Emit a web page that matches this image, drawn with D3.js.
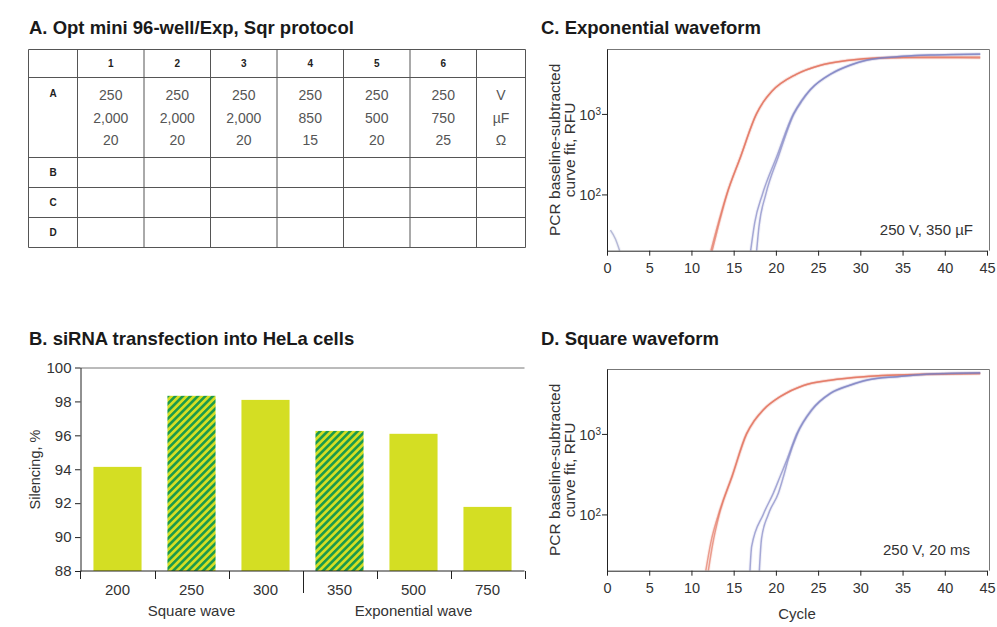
<!DOCTYPE html>
<html>
<head>
<meta charset="utf-8">
<script src="https://cdn.jsdelivr.net/npm/d3@7"></script>
<style>
  body { margin: 0; background: #fff; }
  svg text { font-family: "Liberation Sans", Arial, sans-serif; fill: #333; }
</style>
</head>
<body>
<svg id="chart" width="997" height="627"></svg>
<script>
// ---- panel A: plate layout
const plateCols = ["1", "2", "3", "4", "5", "6"];
const plateRows = ["A", "B", "C", "D"];
const voltsA = ["250", "250", "250", "250", "250", "250"];
const capA = ["2,000", "2,000", "2,000", "850", "500", "750"];
const resA = ["20", "20", "20", "15", "20", "25"];
const unitsA = ["V", "µF", "Ω"];

// ---- panel B: silencing
const pulses = ["200", "250", "300", "350", "500", "750"];
const silencing = [94.14, 98.33, 98.09, 96.26, 96.09, 91.78];
const hatched = [false, true, false, true, false, false];
const waveGroups = ["Square wave", "Exponential wave"];
const silencingTicks = [88, 90, 92, 94, 96, 98, 100];

// ---- panels C/D: qPCR curves, [cycle, RFU]
const cycleTicks = [0, 5, 10, 15, 20, 25, 30, 35, 40, 45];
const rfuTicks = [100, 1000];

const expRed1 = [[12.3, 20], [13.2, 45], [14.17, 100], [15.8, 290], [17.7, 1000], [18.5, 1400], [19.5, 1900], [22.4, 3100], [25.2, 4000], [28.4, 4600], [32.3, 5000], [38, 5100], [44.2, 5100]];
const expRed2 = [[12.45, 20], [13.3, 45], [14.2, 100], [15.8, 290], [17.7, 1000], [18.5, 1400], [19.5, 1900], [22.4, 3100], [25.2, 4000], [28.4, 4600], [32.3, 4950], [38, 5000], [44.2, 4950]];
const expBlue1 = [[17.01, 20], [17.5, 45], [18.4, 100], [20.1, 296], [22.06, 1000], [23.0, 1450], [24.04, 1990], [26.6, 3190], [28.8, 4050], [30.75, 4670], [34.3, 5140], [38.25, 5380], [44.2, 5550]];
const expBlue2 = [[17.72, 20], [18.0, 40], [18.8, 100], [20.3, 296], [22.15, 1000], [23.1, 1450], [24.1, 1990], [26.7, 3190], [28.9, 4050], [30.9, 4670], [34.4, 5140], [38.3, 5380], [44.2, 5500]];
const expStub = [[0.4, 36], [1.0, 28], [1.5, 20]];

const sqrRed1 = [[11.7, 20], [12.3, 45], [13.2, 100], [14.8, 300], [16.5, 1000], [17.4, 1450], [18.5, 2000], [20.5, 2900], [23.25, 4000], [26.4, 4650], [30.4, 5140], [34.3, 5380], [44.2, 5650]];
const sqrRed2 = [[12.0, 20], [12.5, 42], [13.3, 100], [14.85, 300], [16.55, 1000], [17.45, 1450], [18.55, 2000], [20.5, 2900], [23.3, 4000], [26.5, 4650], [30.5, 5140], [34.4, 5380], [44.2, 5600]];
const sqrBlue1 = [[16.93, 20], [17.13, 40], [18.5, 100], [19.7, 184], [20.5, 296], [21.3, 476], [22.46, 1000], [24.2, 1990], [26.4, 3190], [28.8, 4050], [30.75, 4670], [34.3, 5140], [38.25, 5550], [44.2, 5750]];
const sqrBlue2 = [[18.04, 20], [18.3, 50], [19.1, 100], [20.3, 184], [20.9, 296], [21.45, 476], [22.55, 1000], [24.3, 1990], [26.5, 3190], [28.9, 4050], [30.9, 4670], [34.4, 5140], [38.3, 5550], [44.2, 5700]];

const RED = "#e2705a", BLUE = "#7b7fc2", STUB = "#959ac4";
const lime = "#d4de23", hatchGreen = "#1b9a4c";

const svg = d3.select("#chart");

// titles
const titles = [
  { t: "A. Opt mini 96-well/Exp, Sqr protocol", x: 29, y: 34 },
  { t: "B. siRNA transfection into HeLa cells", x: 29, y: 345 },
  { t: "C. Exponential waveform", x: 541, y: 34 },
  { t: "D. Square waveform", x: 541, y: 345 }
];
svg.selectAll('text.title')
  .data(titles)
  .join('text')
  .attr('class', 'title')
  .attr('x', d => d.x)
  .attr('y', d => d.y)
  .attr('font-size', '18.5px')
  .attr('font-weight', 'bold')
  .style('fill', '#1a1a1a')
  .text(d => d.t);

// ================= A: table
const tA = svg.append('g');
const rowEdges = [49.5, 77.5, 157.5, 187.5, 217.5, 247.5];
const colX = d3.scaleBand().domain(plateCols).range([77.5, 476.5]);
const colEdges = [28.5].concat(plateCols.map(c => colX(c)), [476.5, 525.5]);

tA.selectAll('line.h')
  .data(rowEdges)
  .join('line')
  .attr('class', 'h')
  .attr('x1', 28.5).attr('x2', 525.5)
  .attr('y1', d => d).attr('y2', d => d)
  .attr('stroke', '#555').attr('stroke-width', 1);

tA.selectAll('line.v')
  .data(colEdges)
  .join('line')
  .attr('class', 'v')
  .attr('x1', d => d).attr('x2', d => d)
  .attr('y1', 49.5).attr('y2', 247.5)
  .attr('stroke', '#555').attr('stroke-width', 1);

tA.selectAll('text.colhead')
  .data(plateCols)
  .join('text')
  .attr('class', 'colhead')
  .attr('x', d => colX(d) + colX.bandwidth() / 2)
  .attr('y', 67)
  .attr('text-anchor', 'middle')
  .attr('font-size', '10px')
  .attr('font-weight', 'bold')
  .style('fill', '#222')
  .text(d => d);

const rowLabelY = [97, 175.5, 205.5, 235.5];
tA.selectAll('text.rowhead')
  .data(plateRows)
  .join('text')
  .attr('class', 'rowhead')
  .attr('x', 53)
  .attr('y', (d, i) => rowLabelY[i])
  .attr('text-anchor', 'middle')
  .attr('font-size', '10px')
  .attr('font-weight', 'bold')
  .style('fill', '#222')
  .text(d => d);

const lineY = [99.5, 122.5, 145];
[voltsA, capA, resA].forEach((vals, k) => {
  tA.selectAll('text.val' + k)
    .data(vals)
    .join('text')
    .attr('class', 'val' + k)
    .attr('x', (d, i) => colX(plateCols[i]) + colX.bandwidth() / 2)
    .attr('y', lineY[k])
    .attr('text-anchor', 'middle')
    .attr('font-size', '14px')
    .style('fill', '#555')
    .text(d => d);
});
tA.selectAll('text.unit')
  .data(unitsA)
  .join('text')
  .attr('class', 'unit')
  .attr('x', 501)
  .attr('y', (d, i) => lineY[i])
  .attr('text-anchor', 'middle')
  .attr('font-size', '14px')
  .style('fill', '#555')
  .text(d => d);

// ================= B: bar chart
const gB = svg.append('g');
const xB = d3.scaleBand().domain(pulses).range([80.5, 524.5]).paddingInner(0.35).paddingOuter(0.175);
const yB = d3.scaleLinear().domain([88, 100]).range([571, 367.5]);

const defs = svg.append('defs');
const pat = defs.append('pattern')
  .attr('id', 'hatch')
  .attr('patternUnits', 'userSpaceOnUse')
  .attr('width', 5.3).attr('height', 5.3)
  .attr('patternTransform', 'rotate(45)');
pat.append('rect').attr('width', 5.3).attr('height', 5.3).attr('fill', lime);
pat.append('rect').attr('width', 2.6).attr('height', 5.3).attr('fill', hatchGreen);

gB.selectAll('rect.bar')
  .data(pulses)
  .join('rect')
  .attr('class', 'bar')
  .attr('x', d => xB(d))
  .attr('width', xB.bandwidth())
  .attr('y', (d, i) => yB(silencing[i]))
  .attr('height', (d, i) => yB(88) - yB(silencing[i]))
  .attr('fill', (d, i) => hatched[i] ? 'url(#hatch)' : lime);

// top frame line
gB.append('line')
  .attr('x1', 80.5).attr('x2', 524.5)
  .attr('y1', yB(100) + 0.5).attr('y2', yB(100) + 0.5)
  .attr('stroke', '#777');

const yAxB = gB.append('g')
  .attr('transform', 'translate(80.5,0)')
  .call(d3.axisLeft(yB).tickValues(silencingTicks).tickSize(5.5).tickPadding(3.5).tickSizeOuter(0));
yAxB.select('.domain').attr('stroke', '#222');
yAxB.selectAll('.tick line').attr('stroke', '#222');
yAxB.selectAll('.tick text').attr('font-size', '15px').attr('font-family', null).style('fill', '#333');

// bottom axis: ticks at band edges
const edgesB = pulses.map(p => xB(p) - xB.step() * xB.paddingInner() / 2).concat([524.5]);
gB.append('line')
  .attr('x1', 80.5).attr('x2', 524.5)
  .attr('y1', 571).attr('y2', 571)
  .attr('stroke', '#222');
gB.selectAll('line.btick')
  .data(edgesB)
  .join('line')
  .attr('class', 'btick')
  .attr('x1', d => Math.round(d) + 0.5).attr('x2', d => Math.round(d) + 0.5)
  .attr('y1', 571).attr('y2', (d, i) => i === 3 ? 593 : 579)
  .attr('stroke', '#222');
gB.selectAll('text.blab')
  .data(pulses)
  .join('text')
  .attr('class', 'blab')
  .attr('x', d => xB(d) + xB.bandwidth() / 2)
  .attr('y', 595)
  .attr('text-anchor', 'middle')
  .attr('font-size', '15px')
  .text(d => d);
gB.selectAll('text.group')
  .data(waveGroups)
  .join('text')
  .attr('class', 'group')
  .attr('x', (d, i) => (edgesB[i * 3] + edgesB[i * 3 + 3]) / 2)
  .attr('y', 616)
  .attr('text-anchor', 'middle')
  .attr('font-size', '15px')
  .text(d => d);
gB.append('text')
  .attr('transform', 'translate(40,469.5) rotate(-90)')
  .attr('text-anchor', 'middle')
  .attr('font-size', '14.5px')
  .text('Silencing, %');

// ================= C / D: qPCR curves
function qpcrPanel(top, curves, note, noteX, showCycle, id) {
  const bottom = top + 201.7;
  const x = d3.scaleLinear().domain([0, 45]).range([607, 987]);
  const y = d3.scaleLog().domain([20, 6400]).range([bottom, top]);
  const g = svg.append('g');

  defs.append('clipPath').attr('id', id)
    .append('rect')
    .attr('x', x(0)).attr('y', top)
    .attr('width', x(45) - x(0) + 2).attr('height', bottom - top);

  // frame top/right
  g.append('path')
    .attr('d', `M${x(0)},${top + 0.5}H989.5V${bottom}`)
    .attr('fill', 'none')
    .attr('stroke', '#777');

  const line = d3.line()
    .x(d => x(d[0]))
    .y(d => y(d[1]))
    .curve(d3.curveMonotoneX);

  const cg = g.append('g').attr('clip-path', `url(#${id})`);
  // soft halo, then the trace
  cg.selectAll('path.halo')
    .data(curves)
    .join('path')
    .attr('class', 'halo')
    .attr('d', d => line(d.pts))
    .attr('fill', 'none')
    .attr('stroke', d => d.color)
    .attr('stroke-width', 3.5)
    .attr('stroke-opacity', 0.1);
  cg.selectAll('path.trace')
    .data(curves)
    .join('path')
    .attr('class', 'trace')
    .attr('d', d => line(d.pts))
    .attr('fill', 'none')
    .attr('stroke', d => d.color)
    .attr('stroke-width', 1.5)
    .attr('stroke-opacity', 0.65);

  const xAx = g.append('g')
    .attr('transform', `translate(0,${bottom})`)
    .call(d3.axisBottom(x).tickValues(cycleTicks).tickSize(5).tickPadding(7).tickSizeOuter(0));
  xAx.select('.domain').attr('stroke', '#222');
  xAx.selectAll('.tick line').attr('stroke', '#222');
  xAx.selectAll('.tick text').attr('font-size', '14.5px').attr('font-family', null).style('fill', '#333');

  const yAx = g.append('g')
    .attr('transform', `translate(${x(0)},0)`)
    .call(d3.axisLeft(y).tickValues(rfuTicks).tickSize(5).tickFormat('').tickSizeOuter(0));
  yAx.select('.domain').attr('stroke', '#222');
  yAx.selectAll('.tick line').attr('stroke', '#222');
  yAx.selectAll('.tick').each(function (d) {
    const t = d3.select(this).append('text')
      .attr('x', -6).attr('dy', '0.36em')
      .attr('text-anchor', 'end')
      .attr('font-size', '14.5px')
      .style('fill', '#333');
    t.append('tspan').text('10');
    t.append('tspan').attr('dy', '-0.45em').attr('font-size', '10px').text(Math.round(Math.log10(d)));
  });

  g.append('text')
    .attr('x', noteX).attr('y', bottom - 15.5)
    .attr('text-anchor', 'end')
    .attr('font-size', '15px')
    .text(note);

  const lab = g.append('text')
    .attr('transform', `translate(560,${(top + bottom) / 2}) rotate(-90)`)
    .attr('text-anchor', 'middle')
    .attr('font-size', '15.5px');
  lab.append('tspan').attr('x', 0).attr('y', 0).text('PCR baseline-subtracted');
  lab.append('tspan').attr('x', 0).attr('y', 14.5).text('curve fit, RFU');

  if (showCycle) {
    g.append('text')
      .attr('x', (x(0) + x(45)) / 2).attr('y', 619)
      .attr('text-anchor', 'middle')
      .attr('font-size', '15px')
      .text('Cycle');
  }
}

qpcrPanel(49, [
  { pts: expStub, color: STUB },
  { pts: expRed1, color: RED },
  { pts: expRed2, color: RED },
  { pts: expBlue1, color: BLUE },
  { pts: expBlue2, color: BLUE }
], '250 V, 350 µF', 973, false, 'clipC');

qpcrPanel(369, [
  { pts: sqrRed1, color: RED },
  { pts: sqrRed2, color: RED },
  { pts: sqrBlue1, color: BLUE },
  { pts: sqrBlue2, color: BLUE }
], '250 V, 20 ms', 970, true, 'clipD');
</script>
</body>
</html>
